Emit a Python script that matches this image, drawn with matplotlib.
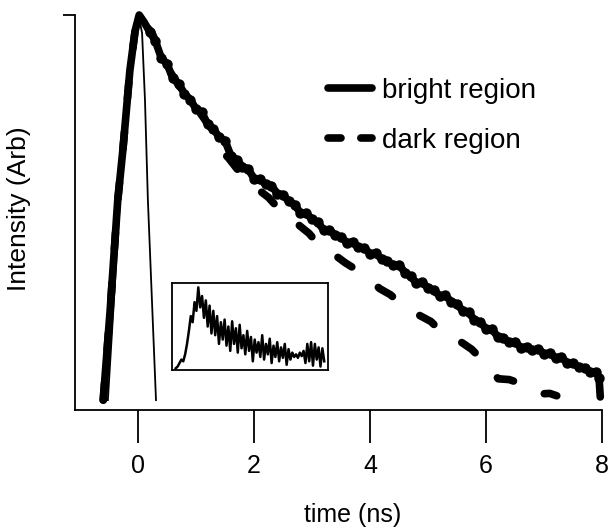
import matplotlib.pyplot as plt
from matplotlib.lines import Line2D

# bright region decay (time in ns, intensity arb.)
t_bright = [-0.60, -0.48, -0.35, -0.26, -0.14, -0.05, 0.02,
            0.10, 0.20, 0.30, 0.40, 0.50, 0.60, 0.70, 0.80, 0.90, 1.00,
            1.10, 1.20, 1.30, 1.40, 1.50, 1.60, 1.70, 1.80, 1.90, 2.00,
            2.10, 2.20, 2.30, 2.40, 2.50, 2.60, 2.70, 2.80, 2.90, 3.00,
            3.10, 3.20, 3.30, 3.40, 3.50, 3.60, 3.70, 3.80, 3.90, 4.00,
            4.10, 4.20, 4.30, 4.40, 4.50, 4.60, 4.70, 4.80, 4.90, 5.00,
            5.10, 5.20, 5.30, 5.40, 5.50, 5.60, 5.70, 5.80, 5.90, 6.00,
            6.10, 6.20, 6.30, 6.40, 6.50, 6.60, 6.70, 6.80, 6.90, 7.00,
            7.10, 7.20, 7.30, 7.40, 7.50, 7.60, 7.70, 7.80, 7.90, 7.95, 7.97]
i_bright = [0.025, 0.253, 0.530, 0.660, 0.860, 0.960, 1.000,
            0.983, 0.958, 0.934, 0.892, 0.876, 0.840, 0.826, 0.801, 0.786, 0.762,
            0.754, 0.723, 0.712, 0.690, 0.682, 0.644, 0.634, 0.616, 0.610, 0.586,
            0.585, 0.571, 0.568, 0.548, 0.545, 0.528, 0.520, 0.499, 0.498, 0.483,
            0.475, 0.456, 0.456, 0.442, 0.438, 0.424, 0.425, 0.412, 0.410, 0.396,
            0.397, 0.382, 0.378, 0.366, 0.368, 0.348, 0.338, 0.322, 0.323, 0.309,
            0.303, 0.289, 0.290, 0.274, 0.268, 0.251, 0.247, 0.228, 0.222, 0.206,
            0.205, 0.186, 0.183, 0.171, 0.173, 0.158, 0.160, 0.151, 0.155, 0.142,
            0.144, 0.132, 0.134, 0.119, 0.119, 0.108, 0.107, 0.095, 0.097, 0.080, 0.033]

# dark region decay
t_dark = [-0.60, -0.48, -0.35, -0.26, -0.14, -0.05, 0.02, 0.12, 0.24, 0.50,
          0.78, 1.07, 1.25, 1.41, 1.56, 1.71, 1.90, 2.10, 2.25, 2.41,
          2.60, 2.79, 2.95, 3.10, 3.35, 3.57, 3.85, 4.17, 4.35, 4.52,
          4.70, 4.86, 5.05, 5.21, 5.40, 5.59, 5.75, 5.90, 6.05, 6.21,
          6.40, 6.62, 6.80, 6.98, 7.10, 7.22]
i_dark = [0.025, 0.253, 0.530, 0.660, 0.860, 0.960, 1.000, 0.975, 0.955, 0.868,
          0.805, 0.752, 0.715, 0.660, 0.638, 0.610, 0.588, 0.555, 0.538, 0.512,
          0.492, 0.466, 0.447, 0.421, 0.397, 0.373, 0.347, 0.307, 0.292, 0.271,
          0.259, 0.239, 0.224, 0.201, 0.189, 0.170, 0.154, 0.132, 0.107, 0.079,
          0.077, 0.066, 0.057, 0.041, 0.042, 0.036]

# instrument response (thin line)
t_irf = [-0.52, -0.31, -0.10, 0.02, 0.07, 0.12, 0.17, 0.24, 0.31]
i_irf = [0.025, 0.532, 0.886, 0.992, 0.954, 0.785, 0.532, 0.278, 0.025]

# inset trace (normalised counts per channel)
inset_counts = [0.02, 0.04, 0.08, 0.12, 0.10, 0.18, 0.30, 0.45, 0.62, 0.55,
                0.78, 0.68, 0.95, 0.72, 0.85, 0.60, 0.80, 0.50, 0.74, 0.42,
                0.68, 0.40, 0.62, 0.30, 0.55, 0.35, 0.58, 0.28, 0.50, 0.22,
                0.56, 0.30, 0.48, 0.20, 0.52, 0.25, 0.40, 0.18, 0.45, 0.22,
                0.38, 0.10, 0.35, 0.20, 0.32, 0.15, 0.40, 0.12, 0.30, 0.18,
                0.36, 0.08, 0.28, 0.15, 0.32, 0.10, 0.26, 0.14, 0.30, 0.06,
                0.24, 0.12, 0.20, 0.15, 0.18, 0.14, 0.20, 0.16, 0.22, 0.08,
                0.30, 0.10, 0.32, 0.05, 0.30, 0.12, 0.26, 0.04, 0.25, 0.10]

x_ticks = [0, 2, 4, 6, 8]
labels = ['bright region', 'dark region']

plt.rcParams['font.family'] = ['Liberation Sans', 'DejaVu Sans']

fig = plt.figure(figsize=(6.09, 5.28), dpi=100)
ax = fig.add_axes([0.1232, 0.2235, 0.8653, 0.7481])

lw = 5.5
ax.plot(t_irf, i_irf, color='black', lw=1.3, clip_on=False)
ax.plot(t_dark, i_dark, color='black', lw=lw, linestyle=(0, (2.2, 4.4)),
        dash_capstyle='round', solid_capstyle='round', clip_on=False)
# dots only on the sampled decay part, the rise stays smooth
ax.plot(t_bright, i_bright, color='black', lw=lw, solid_capstyle='round',
        solid_joinstyle='round', marker='o', ms=6.5, markevery=slice(8, -1),
        clip_on=False)

ax.set_xlim(-1.086, 8)
ax.set_ylim(0, 1)
for side in ['top', 'right']:
    ax.spines[side].set_visible(False)
for side in ['left', 'bottom']:
    ax.spines[side].set_linewidth(1.3)

ax.set_xticks(x_ticks)
ax.tick_params(axis='x', direction='out', length=24, width=1.3,
               labelsize=18, pad=8)
ax.set_yticks([1])
ax.set_yticklabels([])
ax.tick_params(axis='y', direction='out', length=9, width=1.3)

ax.set_xlabel('time (ns)', fontsize=18)
ax.xaxis.set_label_coords(0.527, -0.235)
ax.set_ylabel('Intensity (Arb)', fontsize=19)
ax.yaxis.set_label_coords(-0.083, 0.51)

handles = [Line2D([], [], color='black', lw=lw, solid_capstyle='round'),
           Line2D([], [], color='black', lw=lw, linestyle=(0, (1.7, 2.6)),
                  dash_capstyle='round')]
ax.legend(handles, labels, loc='upper left', bbox_to_anchor=(0.48, 0.84),
          frameon=False, fontsize=20, handlelength=1.6, handletextpad=0.35,
          labelspacing=0.85, borderpad=0, borderaxespad=0)

# inset
axi = fig.add_axes([0.2824, 0.2992, 0.2562, 0.1648])
axi.plot(range(len(inset_counts)), inset_counts, color='black', lw=1.8)
axi.set_xlim(-2, len(inset_counts) + 1)
axi.set_ylim(0, 1.0)
axi.set_xticks([])
axi.set_yticks([])
for s in axi.spines.values():
    s.set_linewidth(1.3)

fig.savefig('out.png', dpi=100)
